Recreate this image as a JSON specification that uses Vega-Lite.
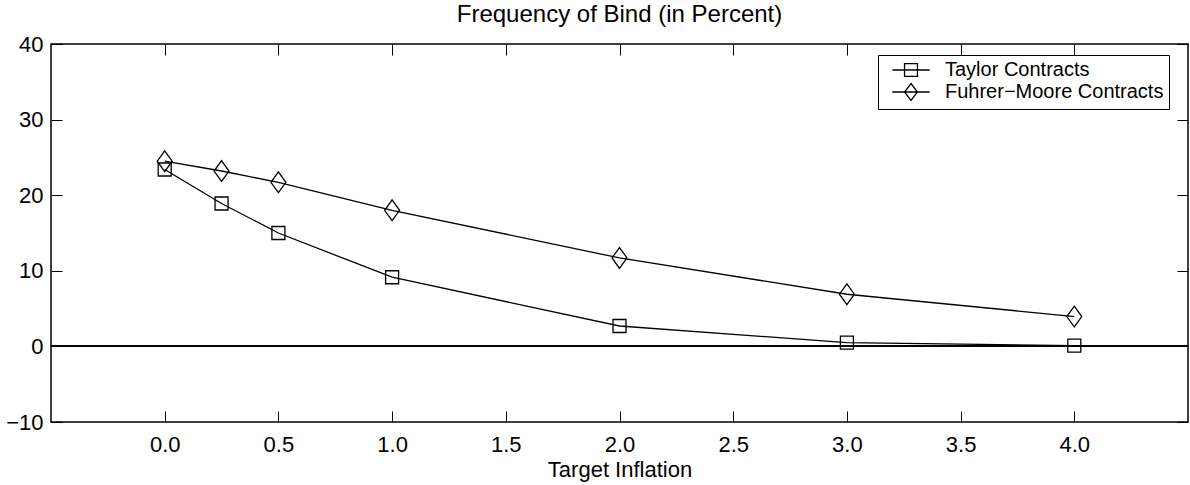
{
  "$schema": "https://vega.github.io/schema/vega-lite/v6.json",
  "autosize": "none",
  "padding": {"left": 51, "top": 44, "right": 2, "bottom": 63},
  "width": 1137,
  "height": 378,
  "title": {"text": "Frequency of Bind (in Percent)", "fontSize": 24, "font": "Liberation Sans", "fontWeight": "normal", "color": "black", "anchor": "middle", "baseline": "alphabetic", "offset": -13},
  "data": {"values": [
    {"series": "Taylor Contracts", "x": 0, "y": 23.4},
    {"series": "Taylor Contracts", "x": 0.25, "y": 18.9},
    {"series": "Taylor Contracts", "x": 0.5, "y": 15.0},
    {"series": "Taylor Contracts", "x": 1, "y": 9.15},
    {"series": "Taylor Contracts", "x": 2, "y": 2.7},
    {"series": "Taylor Contracts", "x": 3, "y": 0.5},
    {"series": "Taylor Contracts", "x": 4, "y": 0.1},
    {"series": "Fuhrer−Moore Contracts", "x": 0, "y": 24.5},
    {"series": "Fuhrer−Moore Contracts", "x": 0.25, "y": 23.2},
    {"series": "Fuhrer−Moore Contracts", "x": 0.5, "y": 21.7},
    {"series": "Fuhrer−Moore Contracts", "x": 1, "y": 18.0},
    {"series": "Fuhrer−Moore Contracts", "x": 2, "y": 11.7},
    {"series": "Fuhrer−Moore Contracts", "x": 3, "y": 6.9},
    {"series": "Fuhrer−Moore Contracts", "x": 4, "y": 3.95}
  ]},
  "config": {
    "view": {"stroke": "black", "strokeWidth": 1.5},
    "font": "Liberation Sans",
    "axis": {"domain": false, "ticks": false, "labelColor": "black", "labelFont": "Liberation Sans", "labelFontSize": 22, "titleFont": "Liberation Sans", "titleFontSize": 22, "titleFontWeight": "normal", "titleColor": "black", "labelFlush": false},
    "legend": {"symbolOpacity": 1}
  },
  "resolve": {"scale": {"shape": "independent"}},
  "layer": [
    {
      "mark": {"type": "line", "color": "black", "strokeWidth": 1.3},
      "encoding": {
        "x": {"field": "x", "type": "quantitative", "scale": {"domain": [-0.5, 4.5], "nice": false, "zero": false},
              "axis": {"title": "Target Inflation", "values": [0, 0.5, 1, 1.5, 2, 2.5, 3, 3.5, 4], "format": ".1f", "grid": true, "gridColor": "black", "gridOpacity": 1, "gridDash": [11, 356, 11, 1000], "labelPadding": 12, "titlePadding": 4}},
        "y": {"field": "y", "type": "quantitative", "scale": {"domain": [-10, 40], "nice": false, "zero": false},
              "axis": {"title": null, "values": [-10, 0, 10, 20, 30, 40], "grid": true, "gridColor": "black", "gridOpacity": 1, "gridDash": [11, 1115, 11, 2000], "labelPadding": 8}},
        "detail": {"field": "series"}
      }
    },
    {
      "mark": {"type": "rule", "color": "black", "strokeWidth": 1.2},
      "encoding": {"y": {"datum": 0, "type": "quantitative"}}
    },
    {
      "mark": {"type": "point", "filled": false, "stroke": "black", "strokeWidth": 1.3, "size": 169, "opacity": 1},
      "encoding": {
        "x": {"field": "x", "type": "quantitative"},
        "y": {"field": "y", "type": "quantitative"},
        "shape": {"field": "series", "type": "nominal",
                  "scale": {"domain": ["Taylor Contracts", "Fuhrer−Moore Contracts"], "range": ["M-1,-1L1,-1L1,1L-1,1Z", "M0,-1.6L1.15,0L0,1.6L-1.15,0Z"]},
                  "legend": null}
      }
    },
    {
      "mark": {"type": "point", "filled": false, "stroke": "black", "strokeWidth": 1.3, "size": 289, "opacity": 0},
      "encoding": {
        "x": {"field": "x", "type": "quantitative"},
        "y": {"field": "y", "type": "quantitative"},
        "shape": {"field": "series", "type": "nominal",
                  "scale": {"domain": ["Taylor Contracts", "Fuhrer−Moore Contracts"], "range": ["M-2.2,0L2.2,0M-0.76,-0.76L0.76,-0.76L0.76,0.76L-0.76,0.76Z", "M-2.2,0L2.2,0M0,-1L0.76,0L0,1L-0.76,0Z"]},
                  "legend": {"title": null, "orient": "none", "legendX": 827, "legendY": 11, "strokeColor": "black", "fillColor": "white", "padding": 5, "symbolOffset": 18, "symbolOpacity": 1, "symbolSize": 289, "symbolStrokeColor": "black", "symbolStrokeWidth": 1.3, "symbolFillColor": "transparent", "labelFontSize": 20, "labelFont": "Liberation Sans", "labelColor": "black", "labelOffset": 24, "labelLimit": 0, "rowPadding": 0, "offset": 0}}
      }
    }
  ]
}
